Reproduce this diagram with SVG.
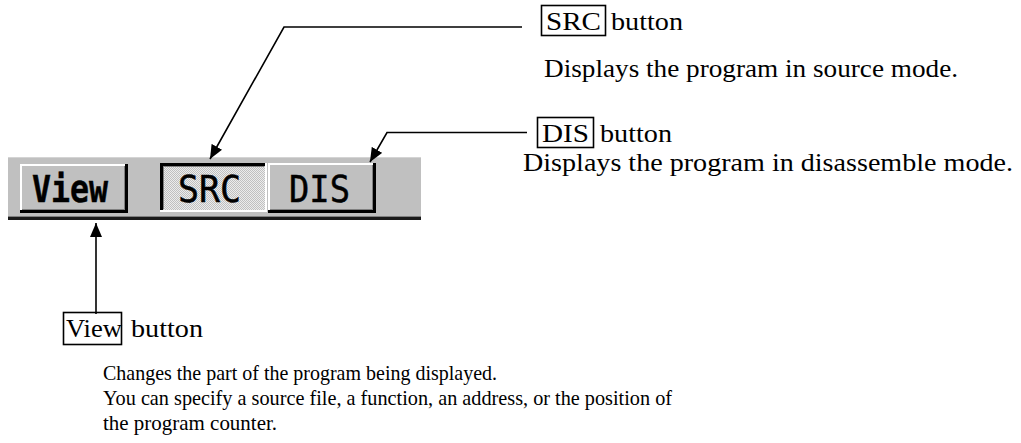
<svg xmlns="http://www.w3.org/2000/svg" width="1021" height="443" viewBox="0 0 1021 443">
<defs>
<pattern id="dither" width="2" height="2" patternUnits="userSpaceOnUse"><rect width="2" height="2" fill="#ececec"/><rect width="1" height="1" fill="#c0c0c0"/><rect x="1" y="1" width="1" height="1" fill="#c0c0c0"/></pattern>
<marker id="arr" markerUnits="userSpaceOnUse" markerWidth="14" markerHeight="12" refX="14" refY="6" orient="auto" viewBox="0 0 14 12"><path d="M0,0 L14,6 L0,12 z" fill="#000"/></marker>
</defs>
<style>
.t{font-family:"Liberation Serif","Times New Roman",serif;font-size:26px;fill:#000}
.p{font-family:"Liberation Serif","Times New Roman",serif;font-size:21px;fill:#000}
.b{font-family:"DejaVu Sans Mono",monospace;font-size:38px;fill:#000;stroke:#000;stroke-width:0.5}
.lk{fill:none;stroke:#000;stroke-width:1.6}
.box{fill:none;stroke:#000;stroke-width:1.6}
.face{fill:#c0c0c0}
.hi{fill:#fff}
.sh{fill:#000}
.mid{fill:#808080}
</style>
<rect width="1021" height="443" fill="#fff"/>
<g id="toolbar">
<rect x="8" y="157" width="413" height="63" fill="#c0c0c0"/>
<rect x="8" y="157" width="413" height="1" fill="#d4d4d4"/>
<rect x="8" y="216" width="413" height="1" fill="#808080"/>
<rect x="8" y="217" width="413" height="3" fill="#1a1a1a"/>
</g>
<g id="btn-view">
<rect class="face" x="20" y="164" width="108" height="49"/>
<rect class="hi" x="20" y="164" width="106" height="2"/>
<rect class="hi" x="20" y="164" width="2" height="47"/>
<rect class="mid" x="22" y="209" width="103" height="1"/>
<rect class="mid" x="124" y="166" width="1" height="43"/>
<rect class="sh" x="20" y="210" width="108" height="3"/>
<rect class="sh" x="125" y="164" width="3" height="49"/>
<text class="b" x="32" y="202" textLength="76" lengthAdjust="spacingAndGlyphs" font-weight="bold">View</text>
</g>
<g id="btn-src">
<rect x="160" y="163" width="107" height="49" fill="url(#dither)"/>
<rect class="sh" x="160" y="163" width="107" height="3"/>
<rect class="sh" x="160" y="163" width="3" height="49"/>
<rect class="mid" x="163" y="166" width="101" height="1"/>
<rect class="mid" x="163" y="166" width="1" height="43"/>
<rect class="hi" x="160" y="210" width="107" height="2"/>
<rect class="hi" x="265" y="163" width="2" height="49"/>
<text class="b" x="178" y="202" textLength="63" lengthAdjust="spacingAndGlyphs">SRC</text>
</g>
<g id="btn-dis">
<rect class="face" x="268" y="163" width="108" height="50"/>
<rect class="hi" x="268" y="163" width="106" height="2"/>
<rect class="hi" x="268" y="163" width="2" height="48"/>
<rect class="mid" x="270" y="209" width="103" height="1"/>
<rect class="mid" x="372" y="165" width="1" height="44"/>
<rect class="sh" x="268" y="210" width="108" height="3"/>
<rect class="sh" x="373" y="163" width="3" height="50"/>
<text class="b" x="289" y="202" textLength="61" lengthAdjust="spacingAndGlyphs">DIS</text>
</g>
<g id="connectors">
<polyline class="lk" points="522,27 284,27 210,159" marker-end="url(#arr)"/>
<polyline class="lk" points="527,132.5 387,132.5 370,162" marker-end="url(#arr)"/>
<line class="lk" x1="96" y1="314" x2="96" y2="223" marker-end="url(#arr)"/>
</g>
<g id="label-src">
<rect class="box" x="541.5" y="5.5" width="64" height="30"/>
<text class="t" x="546" y="30" textLength="55" lengthAdjust="spacingAndGlyphs">SRC</text>
<text class="t" x="611" y="30" textLength="72" lengthAdjust="spacingAndGlyphs">button</text>
<text class="t" x="544" y="77" textLength="414" lengthAdjust="spacingAndGlyphs">Displays the program in source mode.</text>
</g>
<g id="label-dis">
<rect class="box" x="537.5" y="117.5" width="56" height="30"/>
<text class="t" x="542" y="142" textLength="47" lengthAdjust="spacingAndGlyphs">DIS</text>
<text class="t" x="600" y="142" textLength="72" lengthAdjust="spacingAndGlyphs">button</text>
<text class="t" x="523" y="171" textLength="490" lengthAdjust="spacingAndGlyphs">Displays the program in disassemble mode.</text>
</g>
<g id="label-view">
<rect class="box" x="63.5" y="312.5" width="58" height="32"/>
<text class="t" x="66" y="337" textLength="56" lengthAdjust="spacingAndGlyphs">View</text>
<text class="t" x="131" y="337" textLength="72" lengthAdjust="spacingAndGlyphs">button</text>
<text class="p" x="103" y="380" textLength="394" lengthAdjust="spacingAndGlyphs">Changes the part of the program being displayed.</text>
<text class="p" x="103" y="405" textLength="569" lengthAdjust="spacingAndGlyphs">You can specify a source file, a function, an address, or the position of</text>
<text class="p" x="103" y="430" textLength="174" lengthAdjust="spacingAndGlyphs">the program counter.</text>
</g>
</svg>
